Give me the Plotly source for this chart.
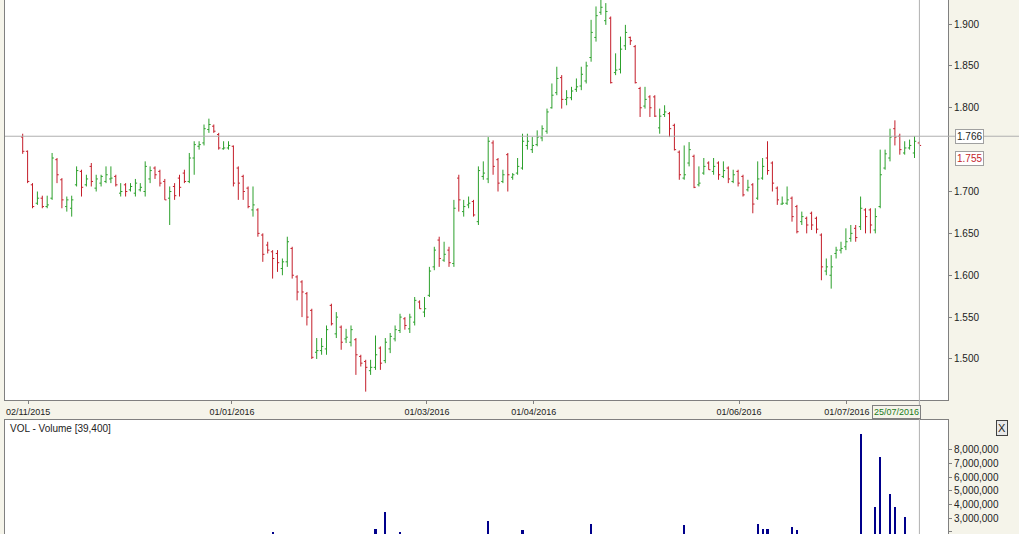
import plotly.graph_objects as go

# OHLC bars (one per trading session)
highs = [1.769, 1.749, 1.710, 1.700, 1.695, 1.695, 1.746, 1.740, 1.716, 1.694,
         1.695, 1.730, 1.726, 1.720, 1.734, 1.720, 1.720, 1.730, 1.730, 1.720,
         1.710, 1.710, 1.710, 1.715, 1.710, 1.736, 1.730, 1.730, 1.726, 1.715,
         1.706, 1.710, 1.720, 1.726, 1.746, 1.760, 1.760, 1.780, 1.787, 1.780,
         1.770, 1.760, 1.760, 1.755, 1.730, 1.720, 1.706, 1.706, 1.680, 1.650,
         1.640, 1.630, 1.630, 1.620, 1.646, 1.634, 1.600, 1.594, 1.580, 1.560,
         1.525, 1.525, 1.540, 1.566, 1.556, 1.540, 1.536, 1.540, 1.525, 1.505,
         1.499, 1.499, 1.528, 1.515, 1.525, 1.531, 1.540, 1.554, 1.550, 1.554,
         1.574, 1.570, 1.574, 1.610, 1.634, 1.646, 1.640, 1.634, 1.690, 1.720,
         1.690, 1.694, 1.690, 1.730, 1.736, 1.765, 1.761, 1.740, 1.726, 1.746,
         1.722, 1.740, 1.769, 1.769, 1.765, 1.773, 1.779, 1.799, 1.829, 1.849,
         1.839, 1.821, 1.825, 1.835, 1.849, 1.855, 1.905, 1.921, 1.929, 1.925,
         1.909, 1.865, 1.885, 1.899, 1.885, 1.875, 1.825, 1.825, 1.815, 1.815,
         1.799, 1.803, 1.795, 1.781, 1.749, 1.755, 1.759, 1.744, 1.730, 1.740,
         1.736, 1.740, 1.736, 1.736, 1.730, 1.726, 1.726, 1.720, 1.714, 1.710,
         1.736, 1.740, 1.760, 1.736, 1.706, 1.694, 1.706, 1.694, 1.684, 1.676,
         1.670, 1.676, 1.670, 1.650, 1.620, 1.624, 1.634, 1.640, 1.656, 1.660,
         1.660, 1.694, 1.680, 1.680, 1.680, 1.750, 1.750, 1.775, 1.785, 1.769,
         1.760, 1.762, 1.766, 1.760]
lows = [1.745, 1.710, 1.680, 1.684, 1.680, 1.680, 1.690, 1.710, 1.680, 1.676,
        1.670, 1.706, 1.694, 1.706, 1.706, 1.700, 1.706, 1.710, 1.710, 1.706,
        1.694, 1.694, 1.700, 1.694, 1.700, 1.694, 1.710, 1.715, 1.706, 1.690,
        1.660, 1.690, 1.694, 1.710, 1.710, 1.720, 1.750, 1.755, 1.770, 1.770,
        1.750, 1.750, 1.750, 1.706, 1.690, 1.690, 1.680, 1.670, 1.646, 1.616,
        1.626, 1.596, 1.604, 1.600, 1.610, 1.596, 1.570, 1.550, 1.540, 1.500,
        1.500, 1.505, 1.505, 1.540, 1.525, 1.511, 1.519, 1.515, 1.481, 1.491,
        1.461, 1.481, 1.487, 1.487, 1.495, 1.507, 1.521, 1.531, 1.535, 1.531,
        1.540, 1.560, 1.550, 1.574, 1.606, 1.610, 1.616, 1.610, 1.610, 1.676,
        1.670, 1.680, 1.670, 1.660, 1.714, 1.710, 1.720, 1.700, 1.710, 1.700,
        1.714, 1.720, 1.726, 1.750, 1.746, 1.754, 1.760, 1.769, 1.799, 1.815,
        1.799, 1.803, 1.809, 1.819, 1.821, 1.829, 1.855, 1.879, 1.911, 1.899,
        1.829, 1.839, 1.841, 1.869, 1.875, 1.829, 1.789, 1.799, 1.789, 1.789,
        1.769, 1.789, 1.765, 1.749, 1.714, 1.714, 1.730, 1.704, 1.706, 1.720,
        1.726, 1.720, 1.714, 1.716, 1.710, 1.710, 1.706, 1.694, 1.700, 1.674,
        1.690, 1.714, 1.720, 1.700, 1.684, 1.684, 1.684, 1.664, 1.650, 1.660,
        1.650, 1.654, 1.650, 1.594, 1.600, 1.584, 1.620, 1.626, 1.630, 1.640,
        1.640, 1.654, 1.650, 1.650, 1.650, 1.680, 1.726, 1.736, 1.755, 1.744,
        1.744, 1.750, 1.740, 1.756]
opens = [1.765, 1.748, 1.708, 1.686, 1.692, 1.682, 1.692, 1.738, 1.714, 1.682,
         1.680, 1.708, 1.724, 1.708, 1.730, 1.704, 1.710, 1.712, 1.715, 1.718,
         1.698, 1.708, 1.702, 1.698, 1.702, 1.700, 1.715, 1.728, 1.724, 1.712,
         1.692, 1.706, 1.716, 1.722, 1.712, 1.740, 1.754, 1.758, 1.774, 1.778,
         1.768, 1.751, 1.752, 1.754, 1.728, 1.718, 1.704, 1.678, 1.678, 1.648,
         1.636, 1.628, 1.626, 1.608, 1.616, 1.632, 1.598, 1.592, 1.578, 1.558,
         1.508, 1.510, 1.512, 1.564, 1.530, 1.538, 1.524, 1.520, 1.523, 1.503,
         1.497, 1.486, 1.490, 1.513, 1.498, 1.512, 1.524, 1.534, 1.548, 1.536,
         1.544, 1.568, 1.556, 1.576, 1.610, 1.642, 1.618, 1.630, 1.614, 1.716,
         1.676, 1.684, 1.688, 1.664, 1.718, 1.715, 1.758, 1.738, 1.712, 1.744,
         1.717, 1.722, 1.728, 1.755, 1.750, 1.756, 1.764, 1.772, 1.800, 1.818,
         1.836, 1.810, 1.812, 1.822, 1.826, 1.832, 1.860, 1.884, 1.914, 1.904,
         1.907, 1.842, 1.846, 1.874, 1.884, 1.873, 1.823, 1.802, 1.813, 1.813,
         1.776, 1.792, 1.793, 1.779, 1.747, 1.716, 1.734, 1.742, 1.708, 1.722,
         1.734, 1.724, 1.734, 1.718, 1.728, 1.712, 1.724, 1.718, 1.702, 1.708,
         1.692, 1.716, 1.740, 1.734, 1.704, 1.685, 1.686, 1.692, 1.682, 1.664,
         1.668, 1.674, 1.668, 1.648, 1.605, 1.600, 1.626, 1.630, 1.634, 1.644,
         1.656, 1.658, 1.678, 1.678, 1.654, 1.682, 1.728, 1.740, 1.775, 1.766,
         1.746, 1.752, 1.746, 1.758]
closes = [1.748, 1.712, 1.682, 1.692, 1.682, 1.684, 1.740, 1.720, 1.690, 1.690,
          1.690, 1.725, 1.705, 1.715, 1.712, 1.715, 1.718, 1.720, 1.716, 1.708,
          1.700, 1.700, 1.706, 1.710, 1.705, 1.730, 1.725, 1.720, 1.710, 1.690,
          1.700, 1.695, 1.705, 1.712, 1.740, 1.756, 1.756, 1.775, 1.780, 1.772,
          1.752, 1.752, 1.755, 1.710, 1.710, 1.700, 1.682, 1.684, 1.650, 1.625,
          1.630, 1.620, 1.615, 1.616, 1.640, 1.600, 1.580, 1.580, 1.550, 1.502,
          1.510, 1.515, 1.535, 1.542, 1.550, 1.520, 1.526, 1.535, 1.505, 1.495,
          1.490, 1.490, 1.505, 1.495, 1.520, 1.527, 1.535, 1.550, 1.540, 1.550,
          1.570, 1.560, 1.560, 1.605, 1.630, 1.620, 1.625, 1.615, 1.680, 1.690,
          1.682, 1.686, 1.672, 1.725, 1.722, 1.760, 1.730, 1.710, 1.720, 1.720,
          1.720, 1.730, 1.760, 1.760, 1.755, 1.765, 1.775, 1.795, 1.815, 1.835,
          1.810, 1.812, 1.820, 1.825, 1.840, 1.850, 1.890, 1.910, 1.920, 1.915,
          1.830, 1.845, 1.870, 1.890, 1.880, 1.830, 1.800, 1.810, 1.800, 1.790,
          1.790, 1.795, 1.775, 1.750, 1.720, 1.720, 1.750, 1.705, 1.710, 1.730,
          1.726, 1.730, 1.720, 1.725, 1.715, 1.720, 1.710, 1.696, 1.705, 1.685,
          1.715, 1.730, 1.725, 1.710, 1.690, 1.686, 1.690, 1.670, 1.652, 1.670,
          1.660, 1.660, 1.655, 1.610, 1.610, 1.610, 1.630, 1.632, 1.640, 1.650,
          1.645, 1.680, 1.670, 1.660, 1.670, 1.720, 1.745, 1.765, 1.765, 1.750,
          1.752, 1.755, 1.760, 1.755]
bar_index = list(range(len(closes)))

# Volume: only the bars that rise into the visible part of the panel
vol_index = [51, 72, 74, 77, 95, 102, 116, 135, 150, 151, 152, 157, 158,
             171, 174, 175, 177, 178, 180]
vol_values = [1.95e6, 2.2e6, 3.45e6, 2.0e6, 2.75e6, 2.1e6, 2.6e6, 2.5e6, 2.55e6,
              2.2e6, 2.2e6, 2.35e6, 2.1e6, 9.2e6, 3.8e6, 7.5e6, 4.8e6, 3.8e6, 3.05e6]

# bar positions where the date labels sit
date_pos = [1.1, 42.7, 82.5, 104.3, 146.2, 168.2]
date_labels = ['02/11/2015', '01/01/2016', '01/03/2016',
               '01/04/2016', '01/06/2016', '01/07/2016']

# price ticks (1.750 sits behind the last-price box in the original)
price_ticks = [1.5, 1.55, 1.6, 1.65, 1.7, 1.8, 1.85, 1.9]

last_close = 1.755
ref_level = 1.766

W, H = 1019, 534
FONT = dict(family='Liberation Sans, Arial, sans-serif', size=10, color='#222')
FRAME = '#808080'
RED = '#c41e2a'
GREEN = '#2ca02c'

fig = go.Figure()

fig.add_trace(go.Ohlc(
    x=bar_index, open=opens, high=highs, low=lows, close=closes,
    increasing=dict(line=dict(color=GREEN, width=1)),
    decreasing=dict(line=dict(color=RED, width=1)),
    tickwidth=0.35, showlegend=False, xaxis='x', yaxis='y'
))

fig.add_trace(go.Bar(
    x=vol_index, y=vol_values, width=0.45,
    marker=dict(color='#00008b', line=dict(width=0)),
    showlegend=False, xaxis='x2', yaxis='y2'
))

x_lo, x_hi = (5 - 22.7) / 4.9, (948 - 22.7) / 4.9
dom_x = [5 / W, 948 / W]

fig.update_layout(
    width=W, height=H,
    margin=dict(l=0, r=0, t=0, b=0),
    paper_bgcolor='#f5f4ea',
    plot_bgcolor='white',
    font=FONT,
    xaxis=dict(domain=dom_x, range=[x_lo, x_hi], tickvals=date_pos, ticktext=date_labels,
               tickfont=dict(size=9),
               showgrid=False, zeroline=False, showline=True, linecolor=FRAME, mirror=True,
               ticks='outside', ticklen=3, tickcolor=FRAME, rangeslider=dict(visible=False),
               anchor='y'),
    yaxis=dict(domain=[1 - 400 / H, 1], range=[1.451, 1.9287], side='right',
               tickvals=price_ticks,
               tickformat='.3f', showgrid=False, zeroline=False, showline=True,
               linecolor=FRAME, mirror=True, ticks='outside', ticklen=3, tickcolor=FRAME,
               anchor='x'),
    xaxis2=dict(domain=dom_x, matches='x', showticklabels=False, showgrid=False,
                zeroline=False, showline=True, linecolor=FRAME, mirror=True, anchor='y2'),
    yaxis2=dict(domain=[0, 114 / H], range=[1.83e6, 10.2e6], side='right',
                tickvals=[2e6, 3e6, 4e6, 5e6, 6e6, 7e6, 8e6], tickformat=',d',
                showgrid=False, zeroline=False, showline=True, linecolor=FRAME, mirror=True,
                ticks='outside', ticklen=3, tickcolor=FRAME, anchor='x2'),
    bargap=0,
)

# reference level line and last-bar cursor
fig.add_shape(type='line', xref='paper', yref='y', x0=dom_x[0], x1=1, y0=ref_level, y1=ref_level,
              line=dict(color='#b0b0b0', width=1))
fig.add_shape(type='line', xref='x', yref='paper', x0=bar_index[-1], x1=bar_index[-1], y0=0, y1=1,
              line=dict(color='#b0b0b0', width=1))

fig.add_annotation(xref='paper', yref='y', x=955 / W, y=ref_level, xanchor='left',
                   text=f'{ref_level:.3f}', showarrow=False, bgcolor='white',
                   bordercolor='#a0a0a0', borderwidth=1, borderpad=1, font=FONT)
fig.add_annotation(xref='paper', yref='y', x=955 / W, y=last_close, yshift=-13, xanchor='left',
                   text=f'{last_close:.3f}', showarrow=False, bgcolor='white',
                   bordercolor='#a0a0a0', borderwidth=1, borderpad=1,
                   font=dict(family=FONT['family'], size=10, color=RED))
fig.add_annotation(xref='paper', yref='paper', x=921 / W, y=1 - 419 / H,
                   text='25/07/2016', showarrow=False, bgcolor='#f5f4ea',
                   bordercolor='#808080', borderwidth=1, borderpad=1,
                   font=dict(family=FONT['family'], size=9, color='#1a7a1a'))
fig.add_annotation(xref='paper', yref='paper', x=8 / W, y=1 - 421 / H, xanchor='left', yanchor='top',
                   text='VOL - Volume [39,400]', showarrow=False, font=FONT)
fig.add_annotation(xref='paper', yref='paper', x=1008 / W, y=1 - 436 / H,
                   text='X', showarrow=False, bgcolor='#e8e8e8',
                   bordercolor='#404040', borderwidth=1, borderpad=1,
                   font=dict(family=FONT['family'], size=11, color='#222'))

# drop the default page margin so the figure sits at the window corner
fig.write_html("out.html", config={'displayModeBar': False},
               post_script="document.body.style.margin='0';")
